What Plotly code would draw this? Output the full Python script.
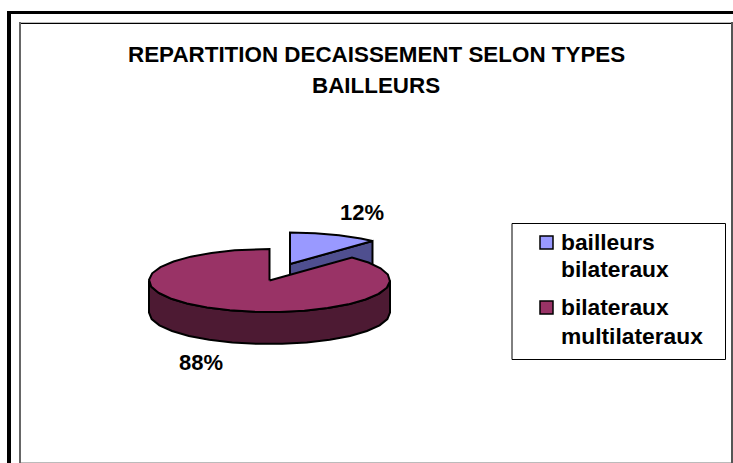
import numpy as np
import plotly.graph_objects as go

title_lines = ["REPARTITION DECAISSEMENT SELON TYPES", "BAILLEURS"]
legend_labels = [["bailleurs", "bilateraux"], ["bilateraux", "multilateraux"]]
shares = [12, 88]
top_colors = ["#9999FF", "#993366"]
side_colors = ["#4F4F8F", "#4D1A33"]

W, H = 733, 463
RX, RY, DEPTH = 120.5, 31.5, 32
centers = [(290, 264), (269.5, 280.5)]
FONT = "Liberation Sans, Arial, sans-serif"


def arc(cx, cy, a0, a1, dz=0.0):
    t = np.radians(np.append(np.arange(a0, a1, 12.0), a1))
    return cx + RX * np.sin(t), cy - RY * np.cos(t) + dz


fig = go.Figure()
bounds = np.cumsum([0] + shares) * 3.6

for i in range(2):
    cx, cy = centers[i]
    a0, a1 = bounds[i], bounds[i + 1]
    if i == 0:
        # end face of the small slice, toward the viewer
        xs, ys = arc(cx, cy, a1, a1)
        wall_x = [cx, xs[-1], xs[-1], cx, cx]
        wall_y = [cy, ys[-1], ys[-1] + DEPTH, cy + DEPTH, cy]
    else:
        # visible rim: front half of the ellipse
        xs, ys = arc(cx, cy, max(a0, 90), min(a1, 270))
        xb, yb = arc(cx, cy, max(a0, 90), min(a1, 270), DEPTH)
        wall_x = list(xs) + list(xb[::-1]) + [xs[0]]
        wall_y = list(ys) + list(yb[::-1]) + [ys[0]]
    fig.add_trace(go.Scatter(x=wall_x, y=wall_y, mode="lines", fill="toself",
                             fillcolor=side_colors[i], hoverinfo="skip",
                             line=dict(color="black", width=2), showlegend=False))
    tx, ty = arc(cx, cy, a0, a1)
    px = [cx] + list(tx) + [cx]
    py = [cy] + list(ty) + [cy]
    fig.add_trace(go.Scatter(x=px, y=py, mode="lines", fill="toself",
                             fillcolor=top_colors[i], name=" ".join(legend_labels[i]),
                             line=dict(color="black", width=2), showlegend=False,
                             hovertemplate=f"{shares[i]}%<extra></extra>"))


def bold(size):
    return dict(family=FONT, size=size, color="black", weight=700)


ann = []
for line, yy in zip(title_lines, [54, 85]):
    ann.append(dict(x=376, y=yy, text=line, showarrow=False, xanchor="center",
                    yanchor="middle", font=bold(22.4)))
ann.append(dict(x=362, y=212, text=f"{shares[0]}%", showarrow=False, font=bold(22)))
ann.append(dict(x=201, y=362, text=f"{shares[1]}%", showarrow=False, font=bold(22)))
legend_y = [[242, 269], [307, 336]]
for lab, ys_ in zip(legend_labels, legend_y):
    for line, yy in zip(lab, ys_):
        ann.append(dict(x=559, y=yy, text=line, showarrow=False, xanchor="left",
                        yanchor="middle", font=bold(22.8)))


def hline(y, x0, x1, color, w):
    return dict(type="line", x0=x0, x1=x1, y0=y, y1=y, line=dict(color=color, width=w))


def vline(x, y0, y1, color, w):
    return dict(type="line", x0=x, x1=x, y0=y0, y1=y1, line=dict(color=color, width=w))


shapes = [
    # outer frame
    hline(12.5, 7, W, "black", 3),
    vline(9, 11, H, "black", 4),
    # inner frame
    hline(22.5, 20, W, "#BBBBBB", 1),
    hline(23.5, 21, 731, "black", 1),
    vline(20, 22, H, "#666666", 2),
    vline(732, 22, H, "#555555", 2),
    hline(462.5, 21, 731, "#BBBBBB", 1),
    # legend
    dict(type="rect", x0=512, y0=223.5, x1=725.5, y1=359.5, fillcolor="white",
         line=dict(color="black", width=1), layer="below"),
    dict(type="rect", x0=540, y0=236, x1=553, y1=249, fillcolor=top_colors[0],
         line=dict(color="black", width=1.5)),
    dict(type="rect", x0=540, y0=301, x1=553, y1=314, fillcolor=top_colors[1],
         line=dict(color="black", width=1.5)),
]

fig.update_layout(
    width=W, height=H, autosize=False, margin=dict(l=0, r=0, t=0, b=0),
    paper_bgcolor="white", plot_bgcolor="white", showlegend=False,
    xaxis=dict(range=[0, W], visible=False, fixedrange=True),
    yaxis=dict(range=[H, 0], visible=False, fixedrange=True),
    annotations=ann, shapes=shapes,
)
fig.write_html("out.html", config=dict(displayModeBar=False),
               post_script="document.body.style.margin='0';document.body.style.overflow='hidden';")
